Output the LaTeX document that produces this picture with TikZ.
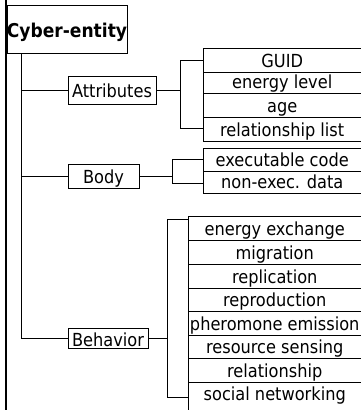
\documentclass[tikz,border=0pt]{standalone}
\usepackage{fontspec}
\setmainfont{DejaVu Sans Condensed}
\begin{document}
\begin{tikzpicture}[x=1pt,y=-1pt,
  cell/.style={draw=black,line width=0.8pt,inner sep=0pt,align=center,
    font=\fontsize{18}{20}\selectfont},
  link/.style={draw=black,line width=0.8pt}]
\useasboundingbox[fill=white] (0,0) rectangle (361,410);
% root
\node[cell,font=\fontsize{19}{21}\selectfont\bfseries,minimum width=120pt,text height=32pt,text depth=16pt] (root) at (67,29) {Cyber-entity};
\draw[line width=2.4pt] (6,0) coordinate (lt) -- (6,410) coordinate (lb);
% level 1
\node[cell,minimum width=88pt,text height=21pt,text depth=7pt] (attr) at (112,90) {Attributes};
\node[cell,minimum width=71pt,text height=19pt,text depth=5pt] (body) at (103.5,176) {Body};
\node[cell,minimum width=80pt,text height=18pt,text depth=2pt] (beh) at (108,338) {Behavior};
% attribute cells
\node[cell,minimum width=158.5pt,text height=19pt,text depth=5pt] (a1) at (282.25,60) {GUID};
\node[cell,minimum width=158.5pt,text height=16pt,text depth=5pt] (a2) at (282.25,82.5) {energy level};
\node[cell,minimum width=158.5pt,text height=19pt,text depth=5pt] (a3) at (282.25,105) {age};
\node[cell,minimum width=158.5pt,text height=19pt,text depth=5pt] (a4) at (282.25,129) {relationship list};
% body cells
\node[cell,minimum width=158.5pt,text height=18pt,text depth=5pt] (b1) at (282.25,159.5) {executable code};
\node[cell,minimum width=158.5pt,text height=17pt,text depth=5pt] (b2) at (282.25,182) {non-exec. data};
% behavior cells
\node[cell,minimum width=173.5pt,text height=19pt,text depth=5pt] (c1) at (274.75,228) {energy exchange};
\node[cell,minimum width=173.5pt,text height=19pt,text depth=5pt] (c2) at (274.75,252) {migration};
\node[cell,minimum width=173.5pt,text height=19pt,text depth=5pt] (c3) at (274.75,276) {replication};
\node[cell,minimum width=173.5pt,text height=18pt,text depth=5pt] (c4) at (274.75,299.5) {reproduction};
\node[cell,minimum width=173.5pt,text height=19pt,text depth=5pt] (c5) at (274.75,323) {pheromone emission};
\node[cell,minimum width=173.5pt,text height=18pt,text depth=5pt] (c6) at (274.75,346.5) {resource sensing};
\node[cell,minimum width=173.5pt,text height=19pt,text depth=5pt] (c7) at (274.75,370) {relationship};
\node[cell,minimum width=173.5pt,text height=18pt,text depth=11pt] (c8) at (274.75,396.5) {social networking};
% trunk
\coordinate (tt) at (21,53);
\coordinate (tb) at (21,338);
\draw[link] (tt) -- (tb);
\draw[link] (tt |- attr.west) -- (attr.west);
\draw[link] (tt |- body.west) -- (body.west);
\draw[link] (tb) -- (beh.west);
% attributes bracket
\coordinate (aT) at (180,60);
\coordinate (aB) at (180,128);
\draw[link] (attr.east) -- (attr.east -| aT);
\draw[link] (a1.west |- aT) -- (aT) -- (aB) -- (a4.west |- aB);
% body bracket
\coordinate (bT) at (172,159);
\coordinate (bB) at (172,183);
\draw[link] (body.east) -- (body.east -| bT);
\draw[link] (b1.west |- bT) -- (bT) -- (bB) -- (b2.west |- bB);
% behavior bracket
\coordinate (cT) at (167,219);
\coordinate (cB) at (167,397);
\draw[link] (beh.east) -- (beh.east -| cT);
\draw[link] (c1.west |- cT) -- (cT) -- (cB) -- (c8.west |- cB);
\end{tikzpicture}
\end{document}
